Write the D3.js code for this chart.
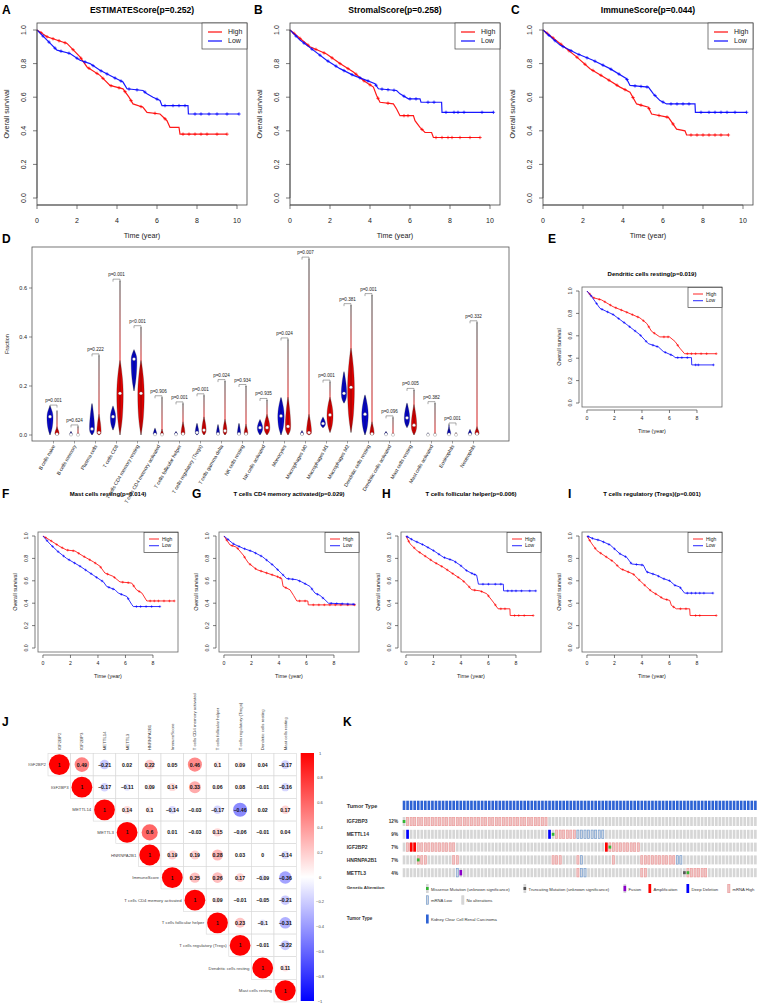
<!DOCTYPE html>
<html><head><meta charset="utf-8">
<script src="https://cdn.jsdelivr.net/npm/d3@7"></script>
<style>body{margin:0;background:#fff}svg{display:block}text{font-family:"Liberation Sans",Arial,Helvetica,sans-serif;fill:#222}</style>
</head><body><svg id="c" width="758" height="1005"></svg>
<script>
// ---------------- DATA ----------------
// Kaplan-Meier curves: [time (year), survival]
const kmA_high=[[0,1],[0.5,0.96],[1.5,0.92],[2.15,0.84],[2.5,0.78],[3.15,0.73],[3.65,0.67],[4.3,0.65],[4.6,0.6],[4.8,0.56],[5.3,0.54],[5.5,0.51],[6.15,0.5],[6.5,0.46],[6.65,0.42],[7.1,0.42],[7.15,0.38],[9.5,0.38]];
const kmA_low=[[0,1],[0.5,0.94],[1.0,0.88],[1.65,0.86],[2.15,0.82],[2.65,0.8],[3.15,0.76],[3.8,0.72],[4.3,0.69],[4.5,0.65],[5.3,0.64],[5.5,0.62],[5.8,0.6],[6.15,0.58],[6.25,0.55],[7.55,0.55],[7.57,0.5],[10.1,0.5]];
const censA_high=[0.2,0.5,0.8,1.1,1.4,1.8,2.2,2.6,3.0,3.3,3.7,4.1,4.4,4.7,5.2,5.9,6.4,7.3,7.6,7.9,8.2,8.5,9.0,9.5];
const censA_low=[0.3,0.6,0.9,1.2,1.6,2.0,2.4,2.8,3.2,3.5,3.9,4.2,4.6,5.0,5.4,6.0,6.4,6.8,7.1,7.4,7.9,8.2,8.6,9.0,9.5,10.1];
const kmB_high=[[0,1],[1.0,0.9],[1.83,0.857],[2.5,0.8],[3.17,0.75],[3.67,0.7],[4.17,0.66],[4.33,0.61],[4.5,0.57],[5.17,0.56],[5.33,0.53],[5.5,0.49],[6.17,0.49],[6.25,0.46],[6.5,0.42],[6.75,0.39],[7.08,0.39],[7.17,0.36],[9.5,0.36]];
const kmB_low=[[0,1],[0.5,0.94],[1.0,0.895],[1.83,0.82],[2.5,0.77],[3.17,0.73],[3.83,0.7],[4.25,0.68],[4.42,0.65],[5.33,0.64],[5.5,0.62],[5.92,0.59],[6.5,0.59],[6.55,0.57],[7.58,0.57],[7.6,0.51],[10.17,0.51]];
const censB_high=[0.2,0.5,0.9,1.3,1.7,2.1,2.5,2.9,3.3,3.7,4.0,4.4,4.9,5.7,5.9,6.6,7.3,7.6,7.9,8.1,8.5,9.0,9.5];
const censB_low=[0.3,0.7,1.1,1.5,1.9,2.3,2.7,3.1,3.5,3.9,4.3,4.6,4.9,5.2,5.7,6.0,6.3,6.9,7.2,7.8,8.2,8.4,8.7,9.6,10.17];
const kmC_high=[[0,1],[0.85,0.92],[1.68,0.84],[2.35,0.77],[3.18,0.71],[3.85,0.66],[4.35,0.63],[4.68,0.56],[5.27,0.54],[5.43,0.5],[6.27,0.48],[6.68,0.41],[7.1,0.4],[7.18,0.375],[9.27,0.375]];
const kmC_low=[[0,1],[0.85,0.91],[1.68,0.86],[2.5,0.82],[3.35,0.77],[4.18,0.71],[4.35,0.67],[5.27,0.66],[5.52,0.62],[5.85,0.58],[6.18,0.56],[7.6,0.56],[7.62,0.51],[10.18,0.51]];
const censC_high=[0.2,0.5,0.9,1.3,1.7,2.1,2.5,2.9,3.3,3.7,4.1,4.5,4.9,5.3,5.8,6.2,6.5,7.4,7.7,8.0,8.3,8.6,8.9,9.27];
const censC_low=[0.3,0.6,1.0,1.4,1.8,2.2,2.6,3.0,3.4,3.8,4.2,4.6,4.9,5.2,5.6,6.0,6.4,6.7,7.0,7.3,7.9,8.3,8.6,8.9,9.2,9.6,10.18];
const kmE_high=[[0,1],[0.46,0.94],[1.07,0.92],[1.9,0.86],[2.9,0.81],[3.85,0.76],[4.35,0.71],[4.7,0.64],[5.3,0.59],[6.0,0.59],[6.4,0.55],[6.75,0.49],[7.1,0.44],[9.4,0.44]];
const kmE_low=[[0,1],[0.34,0.95],[0.95,0.845],[1.9,0.79],[2.9,0.7],[3.85,0.61],[4.46,0.53],[5.2,0.5],[5.55,0.46],[6.3,0.42],[6.4,0.405],[7.6,0.405],[7.62,0.34],[9.2,0.34]];
const censE_high=[0.2,0.5,0.9,1.3,1.7,2.1,2.5,2.9,3.3,3.7,4.1,4.5,4.9,5.6,5.9,6.6,7.3,7.6,7.9,8.3,8.7,9.4];
const censE_low=[0.3,0.7,1.1,1.5,1.9,2.3,2.7,3.1,3.5,3.9,4.3,4.8,5.1,5.7,6.1,6.6,6.9,7.3,7.9,8.1,9.2];
const kmF_high=[[0,1],[0.5,0.964],[1.24,0.905],[1.72,0.875],[2.33,0.866],[2.93,0.82],[3.66,0.77],[4.15,0.73],[4.5,0.67],[5.1,0.64],[5.6,0.59],[6.45,0.58],[6.8,0.52],[7.2,0.49],[7.55,0.42],[9.55,0.42]];
const kmF_low=[[0,1],[0.5,0.93],[1.1,0.86],[1.72,0.8],[2.7,0.73],[3.66,0.65],[4.4,0.59],[4.63,0.55],[5.24,0.52],[5.48,0.49],[6.1,0.46],[6.45,0.39],[6.57,0.37],[8.5,0.37]];
const censF_high=[0.2,0.6,1.0,1.4,1.8,2.2,2.6,3.0,3.4,3.8,4.2,4.7,5.2,5.8,6.2,6.6,7.0,7.8,8.1,8.4,8.8,9.2,9.55];
const censF_low=[0.3,0.7,1.1,1.5,1.9,2.3,2.7,3.1,3.5,3.9,4.3,4.8,5.1,5.7,6.2,6.8,7.1,7.5,7.9,8.5];
const kmG_high=[[0,1],[0.44,0.92],[0.92,0.9],[1.4,0.83],[1.77,0.76],[2.38,0.7],[3.1,0.67],[3.83,0.64],[4.2,0.62],[4.3,0.55],[4.8,0.52],[5.06,0.47],[5.3,0.42],[6.1,0.42],[6.13,0.385],[9.55,0.385]];
const kmG_low=[[0,1],[0.68,0.93],[1.4,0.89],[2.1,0.86],[2.8,0.815],[3.56,0.74],[4.07,0.68],[4.56,0.62],[5.28,0.61],[5.65,0.59],[6.26,0.55],[6.62,0.49],[6.98,0.47],[7.35,0.43],[7.6,0.4],[9.55,0.39]];
const censG_high=[0.2,0.6,1.0,1.5,1.9,2.3,2.7,3.1,3.5,3.9,4.1,4.5,5.5,5.9,6.5,6.9,7.3,7.7,8.1,8.5,9.0,9.5];
const censG_low=[0.3,0.7,1.1,1.5,1.9,2.3,2.7,3.1,3.5,3.9,4.3,4.7,5.0,5.5,5.9,6.4,6.8,7.2,7.8,8.2,8.6,9.0,9.4];
const kmH_high=[[0,1],[0.3,0.93],[0.8,0.87],[1.28,0.83],[2.0,0.77],[2.73,0.72],[3.45,0.66],[4.06,0.61],[4.42,0.57],[4.78,0.52],[5.39,0.51],[5.87,0.485],[6.35,0.41],[6.7,0.35],[7.56,0.35],[7.58,0.29],[9.25,0.29]];
const kmH_low=[[0,1],[0.56,0.96],[1.28,0.92],[2.0,0.87],[2.73,0.81],[3.45,0.78],[3.94,0.74],[4.42,0.69],[4.9,0.66],[5.14,0.65],[5.27,0.57],[7.08,0.57],[7.1,0.51],[9.44,0.51]];
const censH_high=[0.2,0.6,1.0,1.4,1.8,2.2,2.6,3.0,3.4,3.8,4.2,4.6,5.0,5.5,6.0,6.5,6.9,7.2,7.9,8.2,8.6,9.25];
const censH_low=[0.1,0.4,0.8,1.2,1.6,2.0,2.4,2.8,3.2,3.6,4.0,4.4,4.8,5.0,5.6,6.0,6.5,6.9,7.4,7.7,8.0,8.4,9.0,9.44];
const kmI_high=[[0,1],[0.36,0.93],[0.72,0.87],[1.2,0.83],[1.93,0.77],[2.41,0.71],[3.37,0.66],[3.86,0.6],[4.34,0.545],[4.7,0.505],[5.18,0.47],[5.54,0.44],[6.02,0.425],[6.14,0.38],[6.5,0.35],[7.47,0.35],[7.5,0.29],[9.4,0.29]];
const kmI_low=[[0,1],[0.48,0.975],[0.96,0.96],[1.69,0.92],[2.41,0.84],[2.89,0.81],[3.25,0.75],[4.1,0.74],[4.34,0.68],[5.06,0.65],[5.54,0.62],[6.02,0.6],[6.39,0.56],[6.75,0.545],[7.1,0.49],[9.16,0.49]];
const censI_high=[0.2,0.6,1.0,1.4,1.8,2.2,2.6,3.0,3.4,3.8,4.2,4.6,5.0,5.4,5.8,6.3,6.8,7.2,7.9,8.2,9.4];
const censI_low=[0.1,0.4,0.8,1.2,1.6,2.0,2.4,2.8,3.2,3.6,4.0,4.4,4.8,5.2,5.6,6.0,6.4,6.8,7.3,7.6,7.9,8.2,8.5,9.16];

// Panel D violin data (Fraction)
const cellTypes=["B cells naive","B cells memory","Plasma cells","T cells CD8","T cells CD4 memory resting","T cells CD4 memory activated","T cells follicular helper","T cells regulatory (Tregs)","T cells gamma delta","NK cells resting","NK cells activated","Monocytes","Macrophages M0","Macrophages M1","Macrophages M2","Dendritic cells resting","Dendritic cells activated","Mast cells resting","Mast cells activated","Eosinophils","Neutrophils"];
const pLabels=["p=0.001","p=0.624","p=0.222","p=0.001","p<0.001","p=0.906","p=0.001","p=0.001","p=0.024","p=0.934","p=0.935","p=0.024","p=0.007","p=0.001","p=0.381","p=0.001","p=0.096","p=0.005","p=0.382","p=0.001","p=0.332"];
const blueMin=[0,0,0,0.02,0.18,0,0,0,0,0,0,0,0,0.03,0.13,0,0,0.03,0,0,0];
const blueMedian=[0.075,0.002,0.025,0.075,0.31,0.003,0.003,0.01,0.005,0.005,0.03,0.078,0.004,0.047,0.17,0.085,0.003,0.07,0.001,0.003,0.003];
const blueBulk=[0.116,0.012,0.125,0.115,0.345,0.025,0.012,0.045,0.04,0.045,0.06,0.15,0.015,0.07,0.255,0.16,0.012,0.127,0.006,0.03,0.02];
const blueMax=[0.116,0.012,0.125,0.115,0.345,0.025,0.012,0.045,0.04,0.045,0.06,0.15,0.015,0.07,0.255,0.16,0.012,0.127,0.006,0.043,0.02];
const blueDensity=[0.85,0.4,0.7,0.75,0.8,0.5,0.45,0.5,0.45,0.45,0.75,0.9,0.45,0.7,0.75,0.9,0.45,0.75,0.35,0.5,0.5];
const redMin=[0,0,0,0,0,0,0,0,0,0,0,0,0,0.01,0.01,0,0,0,0,0,0];
const redMedian=[0.004,0.001,0.01,0.17,0.17,0.002,0.005,0.02,0.017,0.005,0.03,0.035,0.01,0.082,0.195,0.005,0.001,0.04,0.001,0.001,0.005];
const redBulk=[0.03,0.005,0.08,0.3,0.3,0.02,0.05,0.07,0.06,0.04,0.08,0.15,0.08,0.15,0.35,0.05,0.005,0.12,0.005,0.005,0.03];
const redMax=[0.1,0.035,0.325,0.63,0.44,0.154,0.129,0.162,0.22,0.2,0.143,0.39,0.72,0.218,0.53,0.571,0.072,0.184,0.13,0.01,0.46];
const redDensity=[0.6,0.3,0.6,0.9,0.9,0.4,0.55,0.6,0.55,0.5,0.8,0.75,0.7,0.85,0.95,0.6,0.3,0.75,0.3,0.3,0.6];
const fractionTicks=[0,0.2,0.4,0.6];

// Panel J correlation matrix
const corrVars=["IGF2BP2","IGF2BP3","METTL14","METTL3","HNRNPA2B1","ImmuneScore","T cells CD4 memory activated","T cells follicular helper","T cells regulatory (Tregs)","Dendritic cells resting","Mast cells resting"];
const corrUpper=[
 [0.49,-0.21,0.02,0.22,0.05,0.46,0.1,0.09,0.04,-0.17],
 [-0.17,-0.11,0.09,0.14,0.33,0.06,0.08,-0.01,-0.16],
 [0.14,0.1,-0.14,-0.03,-0.17,-0.46,0.02,0.17],
 [0.6,0.01,-0.03,0.15,-0.06,-0.01,0.04],
 [0.19,0.19,0.28,0.03,0,-0.14],
 [0.25,0.26,0.17,-0.09,-0.36],
 [0.09,-0.01,-0.05,-0.21],
 [0.23,-0.1,-0.31],
 [-0.01,-0.22],
 [0.11]
];
const colorbarTicks=[1,0.8,0.6,0.4,0.2,0,-0.2,-0.4,-0.6,-0.8,-1];

// Panel K oncoprint: [startCol, endCol, alteration]
const oncoGenes=["IGF2BP3","METTL14","IGF2BP2","HNRNPA2B1","METTL3"];
const oncoPercent=["12%","9%","7%","7%","4%"];
const oncoSampleCount=100;
const oncoIGF2BP3=[[1,40,"mrnaHigh"],[0,0,"missense"]];
const oncoMETTL14=[[43,48,"mrnaHigh"],[49,56,"mrnaLow"],[1,1,"deepDel"],[41,41,"deepDel"],[42,42,"missense"]];
const oncoIGF2BP2=[[1,14,"mrnaHigh"],[57,66,"mrnaHigh"],[2,3,"amp"],[57,57,"amp"],[58,58,"missense"]];
const oncoHNRNPA2B1=[[4,6,"mrnaHigh"],[14,15,"mrnaHigh"],[42,44,"mrnaHigh"],[49,49,"mrnaHigh"],[50,50,"mrnaLow"],[59,59,"mrnaHigh"],[67,76,"mrnaHigh"],[77,78,"mrnaLow"],[4,4,"missense"]];
const oncoMETTL3=[[15,15,"mrnaLow"],[49,49,"mrnaHigh"],[50,51,"mrnaLow"],[67,68,"mrnaHigh"],[80,85,"mrnaHigh"],[16,16,"fusion"],[79,79,"truncating"],[80,80,"missense"]];
const oncoLegend1=[["missense","Missense Mutation (unknown significance)"],["truncating","Truncating Mutation (unknown significance)"],["fusion","Fusion"],["amp","Amplification"],["deepDel","Deep Deletion"],["mrnaHigh","mRNA High"]];
const oncoLegend2=[["mrnaLow","mRNA Low"],["none","No alterations"]];

// ---------------- DRAW ----------------
const svg=d3.select("#c");
const RED="#ff0000",BLUE="#0000ff";
function txt(g,x,y,s,size,opt={}){
  const t=g.append("text").attr("x",x).attr("y",y).text(s).attr("font-size",size);
  if(opt.anchor)t.attr("text-anchor",opt.anchor);
  if(opt.bold)t.attr("font-weight","bold");
  if(opt.rot!==undefined)t.attr("transform",`rotate(${opt.rot},${x},${y})`);
  if(opt.fill)t.style("fill",opt.fill);
  return t;
}
function interpS(pts,t){
  for(let i=pts.length-1;i>=0;i--){
    if(pts[i][0]<=t){
      if(i===pts.length-1)return pts[i][1];
      const [t0,s0]=pts[i],[t1,s1]=pts[i+1];
      if(t1===t0)return s1;
      return s0+(s1-s0)*(t-t0)/(t1-t0);
    }
  }
  return 1;
}
// letters
[["A",2,14],["B",254,14],["C",511,14],["D",2,243],["E",548,243],["F",2,498],["G",192,498],["H",382,498],["I",568,498],["J",2,726],["K",343,726]].forEach(([l,x,y])=>txt(svg,x,y,l,12,{bold:true}).style("fill","#000"));

function kmPanel(o){
  const g=svg.append("g");
  const x=d3.scaleLinear().domain(o.xDomain).range([o.L,o.L+o.W]);
  const y=d3.scaleLinear().domain([0,1]).range([o.T+o.H-o.pad,o.T+o.pad]);
  o.curves.forEach(c=>{
    const line=d3.line().x(d=>x(d[0])).y(d=>y(d[1]));
    g.append("path").attr("d",line(c.pts)).attr("fill","none").attr("stroke",c.color).attr("stroke-width",o.lw).attr("stroke-opacity",0.9);
    c.cens.forEach(t=>{
      const cx=x(t),cy=y(interpS(c.pts,t));
      g.append("path").attr("d",`M${cx-o.cs},${cy}H${cx+o.cs}M${cx},${cy-o.cs}V${cy+o.cs}`).attr("stroke",c.color).attr("stroke-width",o.lw*0.8).attr("stroke-opacity",0.75);
    });
  });
  g.append("rect").attr("x",o.L).attr("y",o.T).attr("width",o.W).attr("height",o.H).attr("fill","none").attr("stroke",o.boxColor).attr("stroke-width",0.8);
  const xb=o.T+o.H;
  o.xTicks.forEach(v=>{
    g.append("line").attr("x1",x(v)).attr("x2",x(v)).attr("y1",xb+o.axOff).attr("y2",xb+o.axOff+o.tick).attr("stroke","#444").attr("stroke-width",0.7);
    txt(g,x(v),xb+o.xLabOff,v,o.fs,{anchor:"middle"});
  });
  g.append("line").attr("x1",x(o.xTicks[0])).attr("x2",x(o.xTicks[o.xTicks.length-1])).attr("y1",xb+o.axOff).attr("y2",xb+o.axOff).attr("stroke","#444").attr("stroke-width",0.7);
  const yt=[0,0.2,0.4,0.6,0.8,1.0];
  yt.forEach(v=>{
    g.append("line").attr("x1",o.L-o.axOff).attr("x2",o.L-o.axOff-o.tick).attr("y1",y(v)).attr("y2",y(v)).attr("stroke","#444").attr("stroke-width",0.7);
    txt(g,o.L-o.yLabOff,y(v),d3.format(".1f")(v),o.fs,{anchor:"middle",rot:-90});
  });
  g.append("line").attr("x1",o.L-o.axOff).attr("x2",o.L-o.axOff).attr("y1",y(0)).attr("y2",y(1)).attr("stroke","#444").attr("stroke-width",0.7);
  txt(g,o.L+o.W/2,xb+o.xTitleOff,"Time (year)",o.fs2,{anchor:"middle"});
  txt(g,o.L-o.yTitleOff,o.T+o.H/2,"Overall survival",o.fs2,{anchor:"middle",rot:-90});
  txt(g,o.L+o.W/2,o.titleY,o.title,o.fsT,{anchor:"middle",bold:true}).style("fill","#000");
  const lg=o.leg;
  g.append("rect").attr("x",o.L+o.W-lg.w).attr("y",o.T+lg.top).attr("width",lg.w).attr("height",lg.h).attr("fill","#fff").attr("stroke","#444").attr("stroke-width",0.7);
  o.legend.forEach((d,i)=>{
    const ly=o.T+lg.top+lg.y0+i*lg.dy;
    g.append("line").attr("x1",o.L+o.W-lg.l1).attr("x2",o.L+o.W-lg.l2).attr("y1",ly).attr("y2",ly).attr("stroke",d[1]).attr("stroke-width",o.lw*1.2).attr("stroke-opacity",0.8);
    txt(g,o.L+o.W-lg.tx,ly+lg.fs*0.35,d[0],lg.fs);
  });
}
const big={W:210,H:182,pad:7,xDomain:[0,10.5],xTicks:[0,2,4,6,8,10],lw:1.2,cs:1.7,boxColor:"#444",axOff:0,tick:4,xLabOff:17.5,yLabOff:11,fs:7,fs2:7.2,xTitleOff:33,yTitleOff:28,fsT:8.6,titleY:13,
  leg:{w:45,h:26,top:0,y0:9,dy:9,l1:39,l2:25,tx:19,fs:7}};
const small={W:140,H:120,pad:4,xDomain:[-0.36,9.82],xTicks:[0,2,4,6,8],lw:0.9,cs:1.3,boxColor:"#666",axOff:3,tick:3,xLabOff:13,yLabOff:10,fs:5.2,fs2:5.5,xTitleOff:26,yTitleOff:21,fsT:6,
  leg:{w:34,h:20,top:0.5,y0:6.5,dy:6.7,l1:29,l2:19,tx:16,fs:5}};
const HL=[["High",RED],["Low",BLUE]];
kmPanel({...big,L:37,T:23,title:"ESTIMATEScore(p=0.252)",legend:HL,curves:[{pts:kmA_high,cens:censA_high,color:RED},{pts:kmA_low,cens:censA_low,color:BLUE}]});
kmPanel({...big,L:290,T:23,title:"StromalScore(p=0.258)",legend:HL,curves:[{pts:kmB_high,cens:censB_high,color:RED},{pts:kmB_low,cens:censB_low,color:BLUE}]});
kmPanel({...big,L:543,T:23,title:"ImmuneScore(p=0.044)",legend:HL,curves:[{pts:kmC_high,cens:censC_high,color:RED},{pts:kmC_low,cens:censC_low,color:BLUE}]});
kmPanel({...small,L:582,T:287,titleY:276,title:"Dendritic cells resting(p=0.019)",legend:HL,curves:[{pts:kmE_high,cens:censE_high,color:RED},{pts:kmE_low,cens:censE_low,color:BLUE}]});
kmPanel({...small,L:38,T:532,titleY:496,title:"Mast cells resting(p=0.014)",legend:HL,curves:[{pts:kmF_high,cens:censF_high,color:RED},{pts:kmF_low,cens:censF_low,color:BLUE}]});
kmPanel({...small,L:219,T:532,titleY:496,title:"T cells CD4 memory activated(p=0.029)",legend:HL,curves:[{pts:kmG_high,cens:censG_high,color:RED},{pts:kmG_low,cens:censG_low,color:BLUE}]});
kmPanel({...small,L:401,T:532,titleY:496,title:"T cells follicular helper(p=0.006)",legend:HL,curves:[{pts:kmH_high,cens:censH_high,color:RED},{pts:kmH_low,cens:censH_low,color:BLUE}]});
kmPanel({...small,L:582,T:532,titleY:496,title:"T cells regulatory (Tregs)(p=0.001)",legend:HL,curves:[{pts:kmI_high,cens:censI_high,color:RED},{pts:kmI_low,cens:censI_low,color:BLUE}]});

// ---- Panel D violins ----
(function(){
  const g=svg.append("g");
  const L=32,R=509,T=247,B=441;
  const y=d3.scaleLinear().domain([0,0.6]).range([435,288]);
  const x=d3.scalePoint().domain(cellTypes).range([53.5,473.5]);
  const half=3.5,wmax=4;
  const defs=svg.append("defs");
  g.append("rect").attr("x",L).attr("y",T).attr("width",R-L).attr("height",B-T).attr("fill","none").attr("stroke","#555").attr("stroke-width",0.8);
  fractionTicks.forEach(v=>{
    g.append("line").attr("x1",L).attr("x2",L-3).attr("y1",y(v)).attr("y2",y(v)).attr("stroke","#444").attr("stroke-width",0.6);
    txt(g,L-5,y(v)+2,d3.format(".1f")(v),5.5,{anchor:"end"});
  });
  txt(g,9,(T+B)/2,"Fraction",5.5,{anchor:"middle",rot:-90});
  const area=d3.area().y(d=>y(d[0])).curve(d3.curveBasis);
  function violin(cx,mn,md,bk,mx,dens,color,id){
    const w=dens*wmax;
    const prof=[[mn,0],[mn+(md-mn)*0.35,w*0.7],[md,w],[md+(bk-md)*0.55,w*0.65],[bk,w*0.12],[bk+0.004,0]];
    if(mx>bk){
      const gr=defs.append("linearGradient").attr("id",id).attr("gradientUnits","userSpaceOnUse").attr("x1",0).attr("x2",0).attr("y1",y(mx)).attr("y2",y(bk));
      gr.append("stop").attr("offset",0).attr("stop-color","#333");
      gr.append("stop").attr("offset",1).attr("stop-color",color);
      g.append("line").attr("x1",cx).attr("x2",cx).attr("y1",y(mx)).attr("y2",y(bk)).attr("stroke",`url(#${id})`).attr("stroke-width",0.9);
    }
    g.append("path").attr("d",area.x0(d=>cx-d[1]).x1(d=>cx+d[1])(prof)).attr("fill",color).attr("stroke","#111").attr("stroke-width",0.25);
    g.append("line").attr("x1",cx).attr("x2",cx).attr("y1",y(mn)).attr("y2",y(bk)).attr("stroke","#111").attr("stroke-width",0.4);
    g.append("circle").attr("cx",cx).attr("cy",y(md)).attr("r",1.6).attr("fill","#fff").attr("stroke","#222").attr("stroke-width",0.2);
  }
  cellTypes.forEach((c,i)=>{
    const cb=x(c)-half,cr=x(c)+half;
    violin(cb,blueMin[i],blueMedian[i],blueBulk[i],blueMax[i],blueDensity[i],"#0505cc","gb"+i);
    violin(cr,redMin[i],redMedian[i],redBulk[i],redMax[i],redDensity[i],"#e00000","gr"+i);
    const top=y(Math.max(blueMax[i],redMax[i]))-1.5;
    g.append("path").attr("d",`M${cb},${top+2.5}V${top}H${cr}V${top+2.5}`).attr("fill","none").attr("stroke","#555").attr("stroke-width",0.5);
    txt(g,(cb+cr)/2,top-3,pLabels[i],4.6,{anchor:"middle"});
    g.append("line").attr("x1",x(c)).attr("x2",x(c)).attr("y1",B).attr("y2",B+2.5).attr("stroke","#444").attr("stroke-width",0.5);
    txt(g,x(c)+2,B+5,c,5,{anchor:"end",rot:-60});
  });
})();

// ---- Panel J correlation ----
(function(){
  const g=svg.append("g");
  const n=corrVars.length, cell=22.6, L=48, T=753.3;
  const pos=d3.scaleBand().domain(d3.range(n)).range([0,n*cell]);
  const col=d3.scaleLinear().domain([-1,0,1]).range(["#0000ff","#ffffff","#ff0000"]);
  const rS=d3.scaleSqrt().domain([0,1]).range([0,cell*0.46]);
  const val=(i,j)=>i===j?1:corrUpper[i][j-i-1];
  for(let i=0;i<n;i++){
    for(let j=i;j<n;j++){
      const cx=L+pos(j), cy=T+pos(i);
      g.append("rect").attr("x",cx).attr("y",cy).attr("width",cell).attr("height",cell).attr("fill","#fff").attr("stroke","#d8d8d8").attr("stroke-width",0.6);
    }
  }
  for(let i=0;i<n;i++){
    for(let j=i;j<n;j++){
      const v=val(i,j), cx=L+pos(j)+cell/2, cy=T+pos(i)+cell/2;
      g.append("circle").attr("cx",cx).attr("cy",cy).attr("r",rS(Math.abs(v))).attr("fill",col(v));
      const s=v===1?"1":(v===0?"0":(v<0?"\u2212"+String(Math.abs(v)):String(v)));
      txt(g,cx,cy+1.9,s,5.2,{anchor:"middle",bold:true}).style("fill","#111");
    }
    txt(g,L+pos(i)-2,T+pos(i)+cell/2+1.5,corrVars[i],4.3,{anchor:"end"}).style("fill","#444");
    txt(g,L+pos(i)+cell/2+1.5,T-3,corrVars[i],4.3,{anchor:"start",rot:-90}).style("fill","#444");
  }
  const cbx=300.7,cbw=13.3,cbT=753,cbB=1001;
  const cy=d3.scaleLinear().domain([-1,1]).range([cbB,cbT]);
  const gr=svg.append("defs").append("linearGradient").attr("id","cbar").attr("x1",0).attr("x2",0).attr("y1",1).attr("y2",0);
  [[0,"#0000ff"],[0.5,"#ffffff"],[1,"#ff0000"]].forEach(s=>gr.append("stop").attr("offset",s[0]).attr("stop-color",s[1]));
  g.append("rect").attr("x",cbx).attr("y",cbT).attr("width",cbw).attr("height",cbB-cbT).attr("fill","url(#cbar)");
  colorbarTicks.forEach(v=>{
    txt(g,cbx+cbw+6,cy(v)+1.5,v===0?"0":(v<0?"\u2212"+Math.abs(v):String(v)),4,{anchor:"middle"}).style("fill","#444");
  });
})();

// ---- Panel K oncoprint ----
(function(){
  const g=svg.append("g");
  const x=d3.scaleBand().domain(d3.range(oncoSampleCount)).range([402.7,756.7]).paddingInner(0.25);
  const bw=x.bandwidth();
  const rowY=[817,829.8,842.6,855.4,868.2], rh=9;
  txt(g,346.7,808,"Tumor Type",5.5,{bold:true}).style("fill","#333");
  d3.range(oncoSampleCount).forEach(i=>g.append("rect").attr("x",x(i)).attr("y",800.7).attr("width",bw).attr("height",9.3).attr("fill","#2e63d4"));
  const data=[oncoIGF2BP3,oncoMETTL14,oncoIGF2BP2,oncoHNRNPA2B1,oncoMETTL3];
  function glyph(type,x0,y0,w,h){
    if(type==="none"){g.append("rect").attr("x",x0).attr("y",y0).attr("width",w).attr("height",h).attr("fill","#d6d6d6");}
    else if(type==="mrnaHigh"){g.append("rect").attr("x",x0+0.3).attr("y",y0+0.3).attr("width",w-0.6).attr("height",h-0.6).attr("fill","#eec5c5").attr("stroke","#f39a9a").attr("stroke-width",0.6);}
    else if(type==="mrnaLow"){g.append("rect").attr("x",x0+0.3).attr("y",y0+0.3).attr("width",w-0.6).attr("height",h-0.6).attr("fill","#d0d6e0").attr("stroke","#6f9bd1").attr("stroke-width",0.6);}
    else if(type==="amp"){g.append("rect").attr("x",x0).attr("y",y0).attr("width",w).attr("height",h).attr("fill","#ff0000");}
    else if(type==="deepDel"){g.append("rect").attr("x",x0).attr("y",y0).attr("width",w).attr("height",h).attr("fill","#0000ff");}
    else if(type==="missense"){g.append("rect").attr("x",x0).attr("y",y0+h/3).attr("width",w).attr("height",h/3).attr("fill","#34b534");}
    else if(type==="truncating"){g.append("rect").attr("x",x0).attr("y",y0+h/3).attr("width",w).attr("height",h/3).attr("fill","#555");}
    else if(type==="fusion"){g.append("rect").attr("x",x0).attr("y",y0+h*0.2).attr("width",w).attr("height",h*0.6).attr("fill","#8b00c9");}
  }
  oncoGenes.forEach((gname,r)=>{
    txt(g,346.7,rowY[r]+6.3,gname,5,{bold:true}).style("fill","#333");
    txt(g,398,rowY[r]+6.3,oncoPercent[r],4.6,{anchor:"end",bold:true}).style("fill","#333");
    d3.range(oncoSampleCount).forEach(i=>glyph("none",x(i),rowY[r],bw,rh));
    data[r].forEach(([s,e,t])=>{for(let i=s;i<=e;i++)glyph(t,x(i),rowY[r],bw,rh);});
  });
  txt(g,346.7,889.3,"Genetic Alteration",4.4,{bold:true}).style("fill","#333");
  const lx=[426,523.5,623.5,648.5,686.5,727.5];
  oncoLegend1.forEach((d,i)=>{glyph("none",lx[i],884,bw,9);glyph(d[0],lx[i],884,bw,9);txt(g,lx[i]+5,890.5,d[1],4.2).style("fill","#333");});
  const lx2=[426,461.5];
  oncoLegend2.forEach((d,i)=>{glyph("none",lx2[i],895.5,bw,9);glyph(d[0],lx2[i],895.5,bw,9);txt(g,lx2[i]+5,902,d[1],4.2).style("fill","#333");});
  txt(g,346.7,920,"Tumor Type",4.6,{bold:true}).style("fill","#333");
  g.append("rect").attr("x",426).attr("y",914.5).attr("width",bw).attr("height",9).attr("fill","#2e63d4");
  txt(g,431,921,"Kidney Clear Cell Renal Carcinoma",4.2).style("fill","#333");
})();
</script></body></html>
